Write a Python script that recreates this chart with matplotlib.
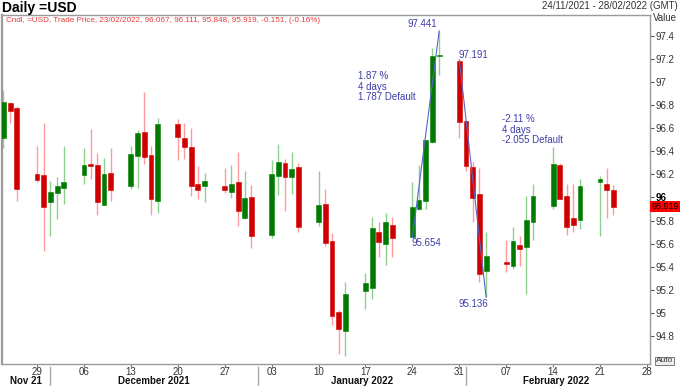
import numpy as np
import pandas as pd
import matplotlib
matplotlib.use('Agg')
import matplotlib.pyplot as plt
import matplotlib.dates as mdates
import matplotlib.transforms as mtransforms
from matplotlib.lines import Line2D

plt.rcParams['font.family'] = ['Liberation Sans', 'DejaVu Sans']

# daily candles, =USD
dates = ['2021-11-24', '2021-11-25', '2021-11-26',
         '2021-11-29', '2021-11-30', '2021-12-01', '2021-12-02', '2021-12-03',
         '2021-12-06', '2021-12-07', '2021-12-08', '2021-12-09', '2021-12-10',
         '2021-12-13', '2021-12-14', '2021-12-15', '2021-12-16', '2021-12-17',
         '2021-12-20', '2021-12-21', '2021-12-22', '2021-12-23', '2021-12-24',
         '2021-12-27', '2021-12-28', '2021-12-29', '2021-12-30', '2021-12-31',
         '2022-01-03', '2022-01-04', '2022-01-05', '2022-01-06', '2022-01-07',
         '2022-01-10', '2022-01-11', '2022-01-12', '2022-01-13', '2022-01-14',
         '2022-01-17', '2022-01-18', '2022-01-19', '2022-01-20', '2022-01-21',
         '2022-01-24', '2022-01-25', '2022-01-26', '2022-01-27', '2022-01-28',
         '2022-01-31', '2022-02-01', '2022-02-02', '2022-02-03', '2022-02-04',
         '2022-02-07', '2022-02-08', '2022-02-09', '2022-02-10', '2022-02-11',
         '2022-02-14', '2022-02-15', '2022-02-16', '2022-02-17', '2022-02-18',
         '2022-02-21', '2022-02-22', '2022-02-23']

opens = [96.512, 96.818, 96.775,
         96.203, 96.191, 95.960, 96.040, 96.083,
         96.191, 96.286, 96.281, 95.937, 96.212,
         96.097, 96.360, 96.564, 96.367, 95.966,
         96.633, 96.512, 96.435, 96.112, 96.103,
         96.097, 96.049, 96.135, 95.820, 96.003,
         95.674, 96.189, 96.298, 96.178, 96.260,
         95.791, 95.940, 95.620, 95.010, 94.847,
         95.187, 95.219, 95.702, 95.597, 95.760,
         95.660, 95.897, 95.968, 96.478, 97.228,
         97.185, 96.661, 96.260, 96.026, 95.362,
         95.440, 95.405, 95.591, 95.573, 95.791,
         95.925, 96.281, 96.011, 95.826, 95.803,
         96.131, 96.118, 96.067]

highs = [96.933, 96.827, 96.790,
         96.446, 96.646, 96.140, 96.178, 96.446,
         96.427, 96.592, 96.384, 96.341, 96.427,
         96.446, 96.584, 96.912, 96.446, 96.689,
         96.678, 96.641, 96.598, 96.275, 96.212,
         96.255, 96.277, 96.392, 96.226, 96.106,
         96.326, 96.464, 96.335, 96.389, 96.298,
         96.232, 96.069, 95.691, 95.024, 95.268,
         95.348, 95.834, 95.788, 95.863, 95.834,
         96.131, 96.277, 96.498, 97.294, 97.441,
         97.191, 96.661, 96.306, 96.255, 95.702,
         95.631, 95.748, 95.668, 96.011, 96.112,
         96.435, 96.298, 96.112, 96.112, 96.161,
         96.189, 96.255, 96.111]

lows = [96.427, 96.641, 95.968,
        96.131, 95.539, 95.668, 95.817, 95.940,
        96.112, 96.161, 95.845, 95.937, 95.968,
        96.075, 96.083, 96.289, 95.845, 95.869,
        96.326, 96.332, 96.011, 95.983, 95.956,
        96.040, 95.991, 95.754, 95.811, 95.562,
        95.651, 96.020, 95.882, 96.026, 95.702,
        95.749, 95.577, 94.895, 94.646, 94.624,
        95.033, 95.124, 95.488, 95.416, 95.488,
        95.654, 95.890, 95.903, 96.470, 97.056,
        96.512, 96.226, 95.791, 95.268, 95.136,
        95.354, 95.382, 95.405, 95.167, 95.633,
        95.897, 95.983, 95.674, 95.697, 95.725,
        95.668, 95.826, 95.848]

closes = [96.827, 96.747, 96.069,
          96.155, 95.920, 96.049, 96.103, 96.131,
          96.281, 96.269, 95.960, 96.203, 96.063,
          96.372, 96.555, 96.352, 95.983, 96.635,
          96.524, 96.435, 96.097, 96.060, 96.140,
          96.063, 96.118, 95.882, 95.997, 95.663,
          96.200, 96.306, 96.178, 96.246, 95.740,
          95.934, 95.605, 94.973, 94.858, 95.161,
          95.262, 95.734, 95.616, 95.783, 95.648,
          95.917, 95.974, 96.498, 97.228, 97.235,
          96.650, 96.269, 95.991, 95.333, 95.491,
          95.425, 95.620, 95.554, 95.805, 96.011,
          96.292, 95.989, 95.748, 95.760, 96.097,
          96.163, 96.060, 95.919]

# drawn trend lines: (start date, start value, end date, end value)
trend_up = ('2022-01-24', 95.654, '2022-01-28', 97.441)
trend_down = ('2022-01-31', 97.191, '2022-02-04', 95.136)
note_up = '1.87 %\n4 days\n1.787 Default'
note_down = '-2.11 %\n4 days\n-2.055 Default'

y_ticks = [94.8, 95.0, 95.2, 95.4, 95.6, 95.8, 96.0, 96.2, 96.4, 96.6, 96.8, 97.0, 97.2, 97.4]
months = [('2021-11-23', '2021-12-01', 'Nov 21'),
          ('2021-12-01', '2022-01-01', 'December 2021'),
          ('2022-01-01', '2022-02-01', 'January 2022'),
          ('2022-02-01', '2022-02-28', 'February 2022')]

header = 'Cndl, =USD, Trade Price, 23/02/2022, 96.067, 96.111, 95.848, 95.919, -0.151, (-0.16%)'

x = mdates.date2num(pd.to_datetime(dates))
o = np.array(opens)
h = np.array(highs)
l = np.array(lows)
c = np.array(closes)
up = c >= o

RED = '#d10000'
GREEN = '#007a00'
NOTE = '#3d3da8'
GREY = '#9a9a9a'

fig = plt.figure(figsize=(6.8, 3.86), dpi=100)
ax = fig.add_axes([2 / 680, 1 - 364 / 386, 648 / 680, 349 / 386])

wick_cols = np.where(up, '#8fd08f', '#ff9a9a')
body_cols = np.where(up, GREEN, RED)
ax.vlines(x, l, h, colors=wick_cols, linewidth=1.0, zorder=2)
ax.bar(x, np.maximum(np.abs(c - o), 0.004), bottom=np.minimum(o, c), width=0.72,
       color=body_cols, edgecolor=body_cols, linewidth=0.4, zorder=3)

# trend lines and labels
for t in (trend_up, trend_down):
    xs = mdates.date2num(pd.to_datetime([t[0], t[2]]))
    ax.plot(xs, [t[1], t[3]], color='#5a66c8', linewidth=0.8, zorder=4)

d = lambda s: mdates.date2num(pd.Timestamp(s))
ax.text(d('2022-01-28') - 0.3, 97.50, '97.441', color=NOTE, fontsize=7, ha='right', va='center')
ax.text(d('2022-01-31') - 0.1, 97.233, '97.191', color=NOTE, fontsize=7, ha='left', va='center')
ax.text(d('2022-01-24') - 0.1, 95.605, '95.654', color=NOTE, fontsize=7, ha='left', va='center')
ax.text(d('2022-01-31') - 0.1, 95.077, '95.136', color=NOTE, fontsize=7, ha='left', va='center')
ax.text(d('2022-01-15') + 0.9, 97.09, note_up, color=NOTE, fontsize=7, ha='left', va='top', linespacing=1.05)
ax.text(d('2022-02-06') + 0.4, 96.72, note_down, color=NOTE, fontsize=7, ha='left', va='top', linespacing=1.05)

ax.set_xlim(d('2021-11-23') + 0.78, d('2022-02-28') + 0.45)
ax.set_ylim(94.558, 97.579)

# right value axis
ax.yaxis.tick_right()
ax.set_yticks(y_ticks)
ax.set_yticklabels(['%g' % v for v in y_ticks])
ax.tick_params(axis='y', direction='out', length=3, width=0.8, color='#555555',
               labelsize=7, labelcolor='#333333', pad=1)
for lab, v in zip(ax.get_yticklabels(), y_ticks):
    if abs(v - 96.0) < 1e-9:
        lab.set_fontweight('bold')
        lab.set_color('black')

# date axis
mondays = pd.date_range('2021-11-29', '2022-02-28', freq='7D')
ax.set_xticks(mdates.date2num(mondays))
ax.set_xticklabels([m.strftime('%d') for m in mondays])
ax.tick_params(axis='x', direction='out', length=2, width=0.8, color='#777777',
               labelsize=7, labelcolor='#333333', pad=0.3)

for s in ax.spines.values():
    s.set_color(GREY)
    s.set_linewidth(1.0)
ax.spines['left'].set_linewidth(1.6)

# month bands under the axis
trans = mtransforms.blended_transform_factory(ax.transData, fig.transFigure)
lo, hi = ax.get_xlim()
for start, end, name in months:
    a = max(d(start), lo)
    b = min(d(end), hi)
    ax.text((a + b) / 2, 1 - 381 / 386, name, transform=trans, ha='center', va='center',
            fontsize=7, fontweight='bold', color='#111111')
for start, end, name in months[1:]:
    ax.add_line(Line2D([d(start), d(start)], [1 - 367 / 386, 0.0], transform=trans,
                       color='#aaaaaa', linewidth=1.0, clip_on=False))

# last price marker
ytrans = mtransforms.blended_transform_factory(ax.transAxes, ax.transData)
ax.text(1.002, closes[-1], '%.3f' % closes[-1], transform=ytrans, ha='left', va='center',
        fontsize=6.5, color='black',
        bbox=dict(boxstyle='square,pad=0.1', facecolor='#ff0000', edgecolor='none'))

# headers
fig.text(2 / 680, 1 - 8 / 386, 'Daily =USD', fontsize=10, fontweight='bold', ha='left', va='center')
fig.text(6 / 680, 1 - 21 / 386, header, fontsize=5.9, color='#e83a3a', ha='left', va='center')
fig.text(678 / 680, 1 - 6 / 386, '24/11/2021 - 28/02/2022 (GMT)', fontsize=7, color='#333333',
         ha='right', va='center')
fig.text(653 / 680, 1 - 18 / 386, 'Value', fontsize=7, color='#333333', ha='left', va='center')
fig.text(656 / 680, 1 - 361 / 386, 'Auto', fontsize=6, color='#333333', ha='left', va='center',
         bbox=dict(boxstyle='square,pad=0.1', facecolor='#eeeeee', edgecolor='#666666', linewidth=0.6))

fig.savefig('out.png', dpi=100)
